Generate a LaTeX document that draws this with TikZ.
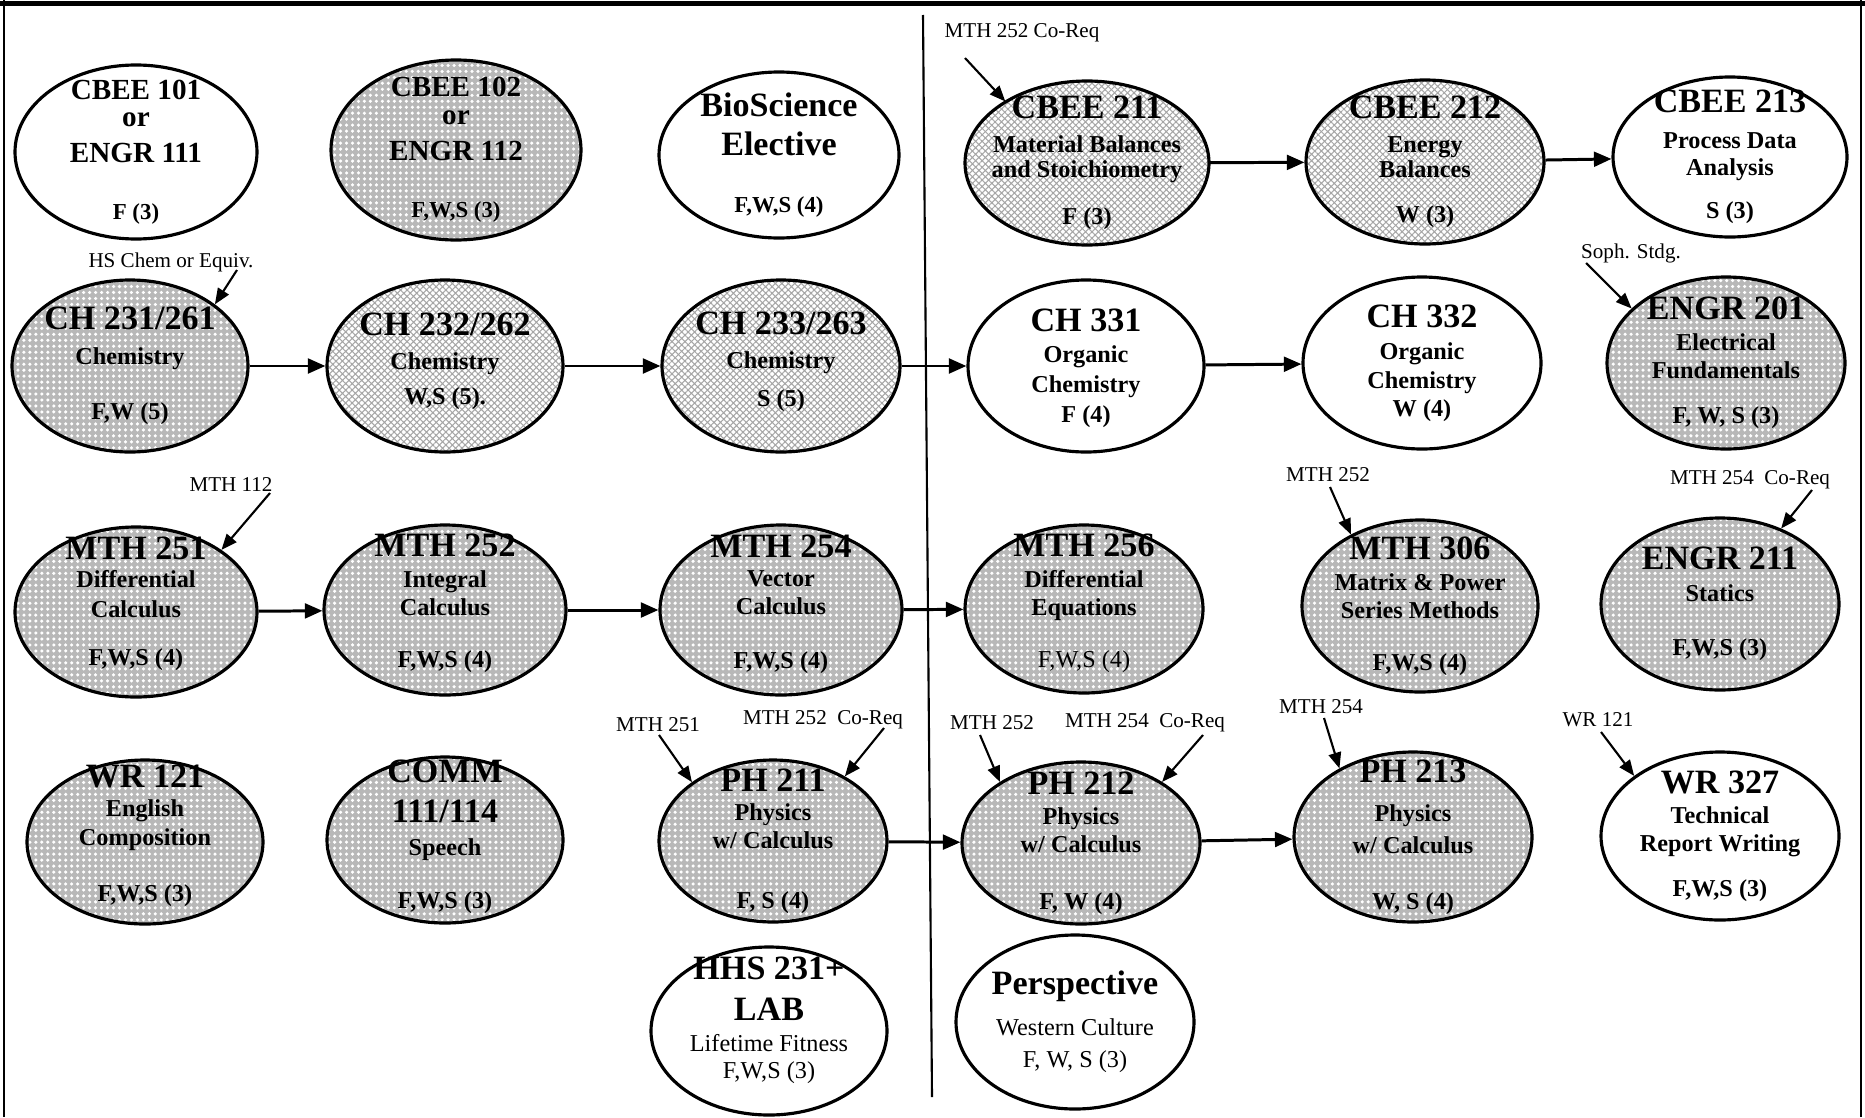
\documentclass[tikz,border=0pt]{standalone}
\usepackage{fontspec}
\setmainfont{Liberation Serif}
\usetikzlibrary{shapes.geometric,arrows.meta,patterns.meta}
\lineskiplimit=-20pt
\newcommand{\code}[1]{{\fontsize{9.7}{7.1}\selectfont #1}}
\newcommand{\scode}[1]{{\fontsize{8.3}{7.1}\selectfont #1}}
\newcommand{\terms}[1]{{\fontsize{6.5}{7.1}\selectfont #1}}
\newcommand{\plain}[1]{{\mdseries #1}}

\begin{document}
\begin{tikzpicture}[
    crs/.style={ellipse, draw, line width=0.9pt, inner sep=-3cm, align=center,
        font=\fontsize{6.9}{7.1}\selectfont\bfseries},
    sz/.style 2 args={minimum width=#1cm, minimum height=#2cm},
    dotfill/.style={preaction={fill=black!28},
        pattern={Dots[radius=0.5pt,distance=1.7pt]}, pattern color=white},
    hatchfill/.style={preaction={fill=white},
        pattern={Hatch[angle=45,distance=1.3pt,line width=0.3pt]}, pattern color=black!35},
    flow/.style={-{Triangle[length=5pt,width=4.2pt]}, line width=0.85pt},
    note/.style={-{Triangle[length=4.5pt,width=3.6pt]}, line width=0.6pt},
    lbl/.style={font=\fontsize{6}{7}\selectfont, inner sep=1pt}]
    \useasboundingbox (0,0) rectangle (18.65,-11.17);

    % frame and year divider
    \draw[line width=1.3pt] (0,-0.035) -- (18.65,-0.035);
    \draw[line width=0.6pt] (0.04,0) -- (0.04,-11.17);
    \draw[line width=0.6pt] (18.61,0) -- (18.61,-11.17);
    \draw[line width=0.6pt] (9.23,-0.15) -- (9.32,-10.97);

    % Row 1: CBEE intro and balances
    \node[crs, sz={2.42}{1.74}] (cbee101) at (1.36,-1.52)
        {\scode{CBEE 101}\\[0.6pt]\scode{or}\\[3.1pt]\scode{ENGR 111}\\[9.1pt]\terms{F (3)}};
    \node[crs, dotfill, sz={2.50}{1.80}] (cbee102) at (4.56,-1.50)
        {\scode{CBEE 102}\\[0.85pt]\scode{or}\\[3.1pt]\scode{ENGR 112}\\[9.1pt]\terms{F,W,S (3)}};
    \node[crs, sz={2.40}{1.66}] (bio) at (7.79,-1.55)
        {\code{BioScience}\\[4pt]\code{Elective}\\[9.1pt]\terms{F,W,S (4)}};
    \node[crs, hatchfill, sz={2.44}{1.64}] (cbee211) at (10.87,-1.63)
        {\code{CBEE 211}\\[2.6pt]Material Balances\\and Stoichiometry\\[6.3pt]F (3)};
    \node[crs, hatchfill, sz={2.38}{1.64}] (cbee212) at (14.25,-1.62)
        {\code{CBEE 212}\\[2.6pt]Energy\\Balances\\[5.7pt]W (3)};
    \node[crs, sz={2.34}{1.60}] (cbee213) at (17.30,-1.57)
        {\code{CBEE 213}\\[3.1pt]Process Data\\[0.6pt]Analysis\\[5.1pt]S (3)};

    % Row 2: chemistry
    \node[crs, dotfill, sz={2.36}{1.72}] (ch231) at (1.30,-3.66)
        {\code{CH 231/261}\\[2.8pt]Chemistry\\[8.5pt]F,W (5)};
    \node[crs, hatchfill, text depth=4pt, sz={2.36}{1.72}] (ch232) at (4.45,-3.66)
        {\code{CH 232/262}\\[2.3pt]Chemistry\\[3pt]W,S (5).};
    \node[crs, hatchfill, text depth=4pt, sz={2.38}{1.72}] (ch233) at (7.81,-3.66)
        {\code{CH 233/263}\\[2.6pt]Chemistry\\[3.8pt]S (5)};
    \node[crs, text depth=-6pt, sz={2.36}{1.72}] (ch331) at (10.86,-3.66)
        {\code{CH 331}\\[1.7pt]Organic\\[1.4pt]Chemistry\\[1.4pt]F (4)};
    \node[crs, sz={2.38}{1.72}] (ch332) at (14.22,-3.63)
        {\code{CH 332}\\[2pt]Organic\\[1.1pt]Chemistry\\[0.85pt]W (4)};
    \node[crs, dotfill, sz={2.38}{1.72}] (engr201) at (17.26,-3.63)
        {\code{ENGR 201}\\[1.7pt]Electrical\\[0.85pt]Fundamentals\\[5.7pt]F, W, S (3)};

    % Row 3: math
    \node[crs, dotfill, text depth=6pt, sz={2.42}{1.70}] (mth251) at (1.36,-6.12)
        {\code{MTH 251}\\[0.85pt]Differential\\[1.4pt]Calculus\\[6.5pt]F,W,S (4)};
    \node[crs, dotfill, text depth=5.5pt, sz={2.42}{1.70}] (mth252) at (4.45,-6.10)
        {\code{MTH 252}\\[1.7pt]Integral\\[0.85pt]Calculus\\[7.7pt]F,W,S (4)};
    \node[crs, dotfill, text depth=4.5pt, sz={2.42}{1.70}] (mth254) at (7.81,-6.10)
        {\code{MTH 254}\\[1.1pt]Vector\\[0.85pt]Calculus\\[8.3pt]F,W,S (4)};
    \node[crs, dotfill, text depth=4.5pt, sz={2.38}{1.68}] (mth256) at (10.84,-6.09)
        {\code{MTH 256}\\[1.7pt]Differential\\[0.85pt]Equations\\[7.7pt]\plain{F,W,S (4)}};
    \node[crs, dotfill, sz={2.36}{1.72}] (mth306) at (14.20,-6.06)
        {\code{MTH 306}\\[1.7pt]Matrix \& Power\\[0.85pt]Series Methods\\[7.7pt]F,W,S (4)};
    \node[crs, dotfill, sz={2.38}{1.72}] (engr211) at (17.20,-6.04)
        {\code{ENGR 211}\\[2pt]Statics\\[8.3pt]F,W,S (3)};

    % Row 4: writing, speech, physics
    \node[crs, dotfill, text depth=5pt, sz={2.36}{1.64}] (wr121) at (1.45,-8.42)
        {\code{WR 121}\\[1.1pt]English\\[1.1pt]Composition\\[8.8pt]F,W,S (3)};
    \node[crs, dotfill, text depth=3.5pt, sz={2.36}{1.66}] (comm) at (4.45,-8.40)
        {\code{COMM}\\[4.3pt]\code{111/114}\\[2.3pt]Speech\\[8pt]F,W,S (3)};
    \node[crs, dotfill, sz={2.28}{1.62}] (ph211) at (7.73,-8.41)
        {\code{PH 211}\\[1.1pt]Physics\\[0.85pt]w/ Calculus\\[10pt]F, S (4)};
    \node[crs, dotfill, sz={2.38}{1.62}] (ph212) at (10.81,-8.43)
        {\code{PH 212}\\[1.4pt]Physics\\[0.85pt]w/ Calculus\\[9.1pt]F, W (4)};
    \node[crs, dotfill, sz={2.38}{1.70}] (ph213) at (14.13,-8.37)
        {\code{PH 213}\\[4pt]Physics\\[2pt]w/ Calculus\\[8.8pt]W, S (4)};
    \node[crs, sz={2.38}{1.68}] (wr327) at (17.20,-8.36)
        {\code{WR 327}\\[1.4pt]Technical\\[0.85pt]Report Writing\\[5.7pt]F,W,S (3)};

    % Row 5: electives
    \node[crs, text depth=7.5pt, sz={2.36}{1.68}] (hhs) at (7.69,-10.31)
        {\code{HHS 231+}\\[4.6pt]\code{LAB}\\[1.7pt]\plain{Lifetime Fitness}\\[0.6pt]\plain{F,W,S (3)}};
    \node[crs, sz={2.38}{1.74}] (persp) at (10.75,-10.22)
        {\code{Perspective}\\[4.6pt]\plain{Western Culture}\\[2pt]\plain{F, W, S (3)}};

    % sequences
    \draw[flow] (cbee211) -- (cbee212);
    \draw[flow] (cbee212) -- (cbee213);
    \draw[flow] (ch231) -- (ch232);
    \draw[flow] (ch232) -- (ch233);
    \draw[flow] (ch233) -- (ch331);
    \draw[flow] (ch331) -- (ch332);
    \draw[flow] (mth251) -- (mth252);
    \draw[flow] (mth252) -- (mth254);
    \draw[flow] (mth254) -- (mth256);
    \draw[flow] (ph211) -- (ph212);
    \draw[flow] (ph212) -- (ph213);

    % prerequisite notes
    \node[lbl] (lcbee211) at (10.22,-0.33) {MTH 252 Co-Req};
    \node[lbl] (lch231) at (1.71,-2.62) {HS Chem or Equiv.};
    \node[lbl] (lmth251) at (2.31,-4.85) {MTH 112};
    \node[lbl] (lengr201) at (16.31,-2.53) {Soph. Stdg.};
    \node[lbl] (lmth306) at (13.28,-4.75) {MTH 252};
    \node[lbl] (lengr211) at (17.50,-4.80) {MTH 254\ \ Co-Req};
    \node[lbl] (lph211a) at (6.58,-7.25) {MTH 251};
    \node[lbl] (lph211b) at (8.23,-7.20) {MTH 252\ \ Co-Req};
    \node[lbl] (lph212a) at (9.92,-7.23) {MTH 252};
    \node[lbl] (lph212b) at (11.45,-7.23) {MTH 254\ \ Co-Req};
    \node[lbl] (lph213) at (13.21,-7.07) {MTH 254};
    \node[lbl] (lwr327) at (15.98,-7.20) {WR 121};

    \coordinate (fcbee211) at (9.65,-0.58);
    \coordinate (fch231) at (2.37,-2.70);
    \coordinate (fmth251) at (2.70,-4.93);
    \coordinate (fengr201) at (15.86,-2.63);
    \coordinate (fmth306) at (13.30,-4.87);
    \coordinate (fengr211) at (18.12,-4.90);
    \coordinate (fph211a) at (6.59,-7.35);
    \coordinate (fph211b) at (8.84,-7.28);
    \coordinate (fph212a) at (9.80,-7.35);
    \coordinate (fph212b) at (12.03,-7.35);
    \coordinate (fph213) at (13.24,-7.18);
    \coordinate (fwr327) at (16.01,-7.32);

    \draw[note] (fcbee211) -- (cbee211.143);
    \draw[note] (fch231) -- (ch231.36);
    \draw[note] (fmth251) -- (mth251.36);
    \draw[note] (fengr201) -- (engr201.150);
    \draw[note] (fmth306) -- (mth306.134);
    \draw[note] (fengr211) -- (engr211.51);
    \draw[note] (fph211a) -- (ph211.144);
    \draw[note] (fph211b) -- (ph211.42);
    \draw[note] (fph212a) -- (ph212.143);
    \draw[note] (fph212b) -- (ph212.37);
    \draw[note] (fph213) -- (ph213.137);
    \draw[note] (fwr327) -- (wr327.145);
\end{tikzpicture}
\end{document}
